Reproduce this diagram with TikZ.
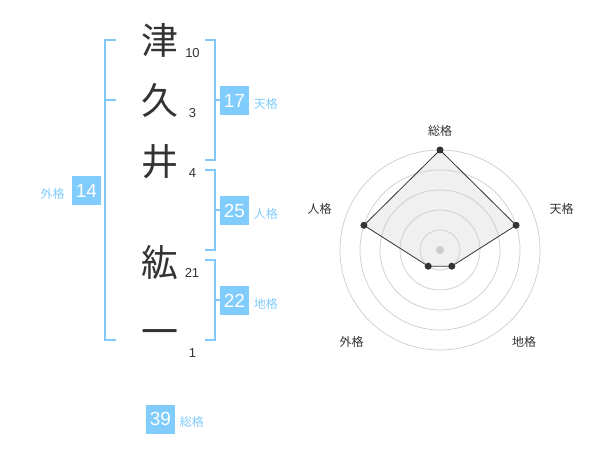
\documentclass[tikz,border=0pt]{standalone}
\usepackage{fontspec}
\setmainfont{Liberation Sans}
\newfontfamily\cjk{Noto Sans CJK JP}
\usetikzlibrary{positioning}
\definecolor{brk}{HTML}{80C8F8}
\definecolor{boxc}{HTML}{80CCFC}
\definecolor{ink}{HTML}{333333}
\definecolor{ring}{HTML}{CCCCCC}
\tikzset{
  kanji/.style={font=\cjk\fontsize{37}{37}\selectfont, text=ink, inner sep=0pt},
  strokes/.style={font=\fontsize{13}{13}\selectfont, text=ink, inner sep=0pt},
  numbox/.style={fill=boxc, text=white, minimum width=29pt, minimum height=29pt, inner sep=0pt, font=\fontsize{19}{19}\selectfont},
  kaku/.style={text=boxc, font=\cjk\fontsize{12}{12}\selectfont, inner sep=0pt},
  bracket/.style={draw=brk, line width=2pt},
  rlabel/.style={text=ink, font=\cjk\fontsize{12}{12}\selectfont, inner sep=0pt},
  dot/.style={circle, fill=ink, inner sep=0pt, minimum size=7pt},
}
\begin{document}
\begin{tikzpicture}[x=1pt,y=-1pt]
\useasboundingbox (0,0) rectangle (600,470);
% kanji
\node[kanji] (k1) at (160,40) {津};
\node[kanji] (k2) at (160,100) {久};
\node[kanji] (k3) at (160,161.5) {井};
\node[kanji] (k4) at (160,263) {紘};
\node[kanji] (k5) at (160,338) {一};
\node[strokes] (s1) at (192.5,53.5) {10};
\node[strokes] (s2) at (192.5,113.5) {3};
\node[strokes] (s3) at (192.5,173.5) {4};
\node[strokes] (s4) at (192,273) {21};
\node[strokes] (s5) at (192.5,353.5) {1};
% brackets
\draw[bracket] (116,40) -- (105,40) -- (105,340) -- (116,340);
\draw[bracket] (105,100) -- (116,100);
\draw[bracket] (205,40) -- (214.5,40) -- (214.5,160) -- (205,160);
\draw[bracket] (214.5,100) -- (220,100);
\draw[bracket] (205,170) -- (214.5,170) -- (214.5,250) -- (205,250);
\draw[bracket] (214.5,210) -- (220,210);
\draw[bracket] (205,260) -- (214.5,260) -- (214.5,340) -- (205,340);
\draw[bracket] (214.5,300) -- (220,300);
% boxes
\node[numbox] (ten) at (234.5,100.5) {17};
\node[kaku, right=4.5pt of ten.east, yshift=-3pt] (tenl) {天格};
\node[numbox] (jin) at (234.5,210.5) {25};
\node[kaku, right=4.5pt of jin.east, yshift=-3pt] (jinl) {人格};
\node[numbox] (chi) at (234.5,300.5) {22};
\node[kaku, right=4.5pt of chi.east, yshift=-3pt] (chil) {地格};
\node[numbox] (gai) at (86.5,190.5) {14};
\node[kaku, left=7pt of gai.west, yshift=-3pt] (gail) {外格};
\node[numbox] (sou) at (160.5,419) {39};
\node[kaku, right=4.5pt of sou.east, yshift=-3pt] (soul) {総格};
% radar
\coordinate (C) at (440,250);
\foreach \r in {20,40,60,80,100} \draw[ring, line width=0.7pt] (C) circle[radius=\r pt];
\fill[ring] (C) circle[radius=4pt];
\coordinate (pS) at (440,150);
\coordinate (pT) at (516.1,225.3);
\coordinate (pC) at (451.8,266.2);
\coordinate (pG) at (428.2,266.2);
\coordinate (pJ) at (363.9,225.3);
\filldraw[fill=black!20, fill opacity=0.3, draw=ink, line width=0.8pt] (pS) -- (pT) -- (pC) -- (pG) -- (pJ) -- cycle;
\foreach \p in {pS,pT,pC,pG,pJ} \node[dot] at (\p) {};
\node[rlabel] (lS) at (440,130.5) {総格};
\node[rlabel] (lT) at (561.5,208.5) {天格};
\node[rlabel] (lJ) at (319.5,208.5) {人格};
\node[rlabel] (lG) at (351.5,341.5) {外格};
\node[rlabel] (lC) at (524,341.5) {地格};
\end{tikzpicture}
\end{document}
